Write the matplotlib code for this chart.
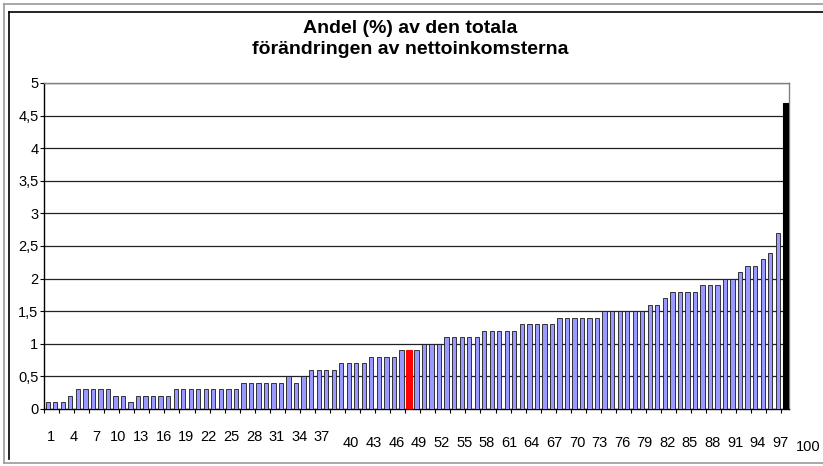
import numpy as np
import matplotlib.pyplot as plt
from matplotlib.lines import Line2D
from matplotlib.transforms import ScaledTranslation

plt.rcParams['font.family'] = ['Liberation Sans', 'DejaVu Sans']

# andel (%) per percentil
andel = [0.1, 0.1, 0.1, 0.2, 0.3, 0.3, 0.3, 0.3, 0.3, 0.2,
         0.2, 0.1, 0.2, 0.2, 0.2, 0.2, 0.2, 0.3, 0.3, 0.3,
         0.3, 0.3, 0.3, 0.3, 0.3, 0.3, 0.4, 0.4, 0.4, 0.4,
         0.4, 0.4, 0.5, 0.4, 0.5, 0.6, 0.6, 0.6, 0.6, 0.7,
         0.7, 0.7, 0.7, 0.8, 0.8, 0.8, 0.8, 0.9, 0.9, 0.9,
         1.0, 1.0, 1.0, 1.1, 1.1, 1.1, 1.1, 1.1, 1.2, 1.2,
         1.2, 1.2, 1.2, 1.3, 1.3, 1.3, 1.3, 1.3, 1.4, 1.4,
         1.4, 1.4, 1.4, 1.4, 1.5, 1.5, 1.5, 1.5, 1.5, 1.5,
         1.6, 1.6, 1.7, 1.8, 1.8, 1.8, 1.8, 1.9, 1.9, 1.9,
         2.0, 2.0, 2.1, 2.2, 2.2, 2.3, 2.4, 2.7, 4.7]
percentil = np.arange(1, len(andel) + 1)
red_cat = 49
black_cat = 99

ytick_vals = [0, 0.5, 1, 1.5, 2, 2.5, 3, 3.5, 4, 4.5, 5]
ytick_labels = ['0', '0,5', '1', '1,5', '2', '2,5', '3', '3,5', '4', '4,5', '5']
xtick_vals = list(range(1, 98, 3))
title = 'Andel (%) av den totala\nförändringen av nettoinkomsterna'

W, H = 823, 466
fig = plt.figure(figsize=(W / 100, H / 100), dpi=100)
ax = fig.add_axes([44 / W, 57 / H, 745 / W, 326 / H])

# ram runt diagrammet
def fline(x0, y0, x1, y1, c, lw):
    fig.add_artist(Line2D([x0 / W, x1 / W], [1 - y0 / H, 1 - y1 / H],
                          color=c, lw=lw, transform=fig.transFigure))

fline(4, 4, 823, 4, '#999999', 1.2)
fline(4, 4, 4, 463, '#999999', 1.2)
fline(4, 463, 823, 463, '#999999', 1.2)
fline(9, 12, 823, 12, 'black', 1.2)
fline(9, 12, 9, 459, 'black', 1.2)

vals = np.array(andel)
normal = (percentil != red_cat) & (percentil != black_cat)
ax.bar(percentil[normal], vals[normal], width=0.57, color='#9999FF',
       edgecolor='#1a1a1a', linewidth=0.6, zorder=3)
ax.bar(red_cat, vals[red_cat - 1], width=0.78, color='#FF0000',
       edgecolor='#FF0000', linewidth=0.8, zorder=3)
ax.bar(black_cat, vals[black_cat - 1], width=0.62, color='black',
       edgecolor='black', linewidth=0.8, zorder=3)

ax.set_xlim(0.5, len(andel) + 0.5)
ax.set_ylim(0, 5)
ax.set_yticks(ytick_vals, ytick_labels)
ax.yaxis.grid(True, color='#222222', lw=0.9)
ax.set_axisbelow(True)
ax.tick_params(axis='y', direction='out', length=3, width=0.8, pad=1,
               labelsize=10.5, colors='black')

ax.set_xticks(xtick_vals, [str(v) for v in xtick_vals])
ax.set_xticks(np.arange(0.5, 99, 2), minor=True)
ax.tick_params(axis='x', which='major', length=0, labelsize=10.5)
ax.tick_params(axis='x', which='minor', direction='out', length=3, width=0.8)
for t in ax.xaxis.get_major_ticks():
    loc = t.get_loc()
    if loc < 40:
        t.set_pad(15)
        dx = 3
    else:
        t.set_pad(19.5)
        dx = 10
    t.label1.set_transform(t.label1.get_transform() +
                           ScaledTranslation(dx / 100, 0, fig.dpi_scale_trans))

ax.annotate('100', xy=(100, 0), xycoords=('data', 'axes fraction'),
            xytext=(15, -31), textcoords='offset pixels', ha='center', va='top',
            fontsize=10.5, annotation_clip=False)

for s in ['top', 'right']:
    ax.spines[s].set_color('#808080')
    ax.spines[s].set_linewidth(1.0)
for s in ['left', 'bottom']:
    ax.spines[s].set_color('black')
    ax.spines[s].set_linewidth(1.0)

fig.text(410 / W, 1 - 39 / H, title, ha='center', va='center',
         fontsize=14, fontweight='bold', linespacing=1.35)

fig.savefig('out.png', dpi=100)
